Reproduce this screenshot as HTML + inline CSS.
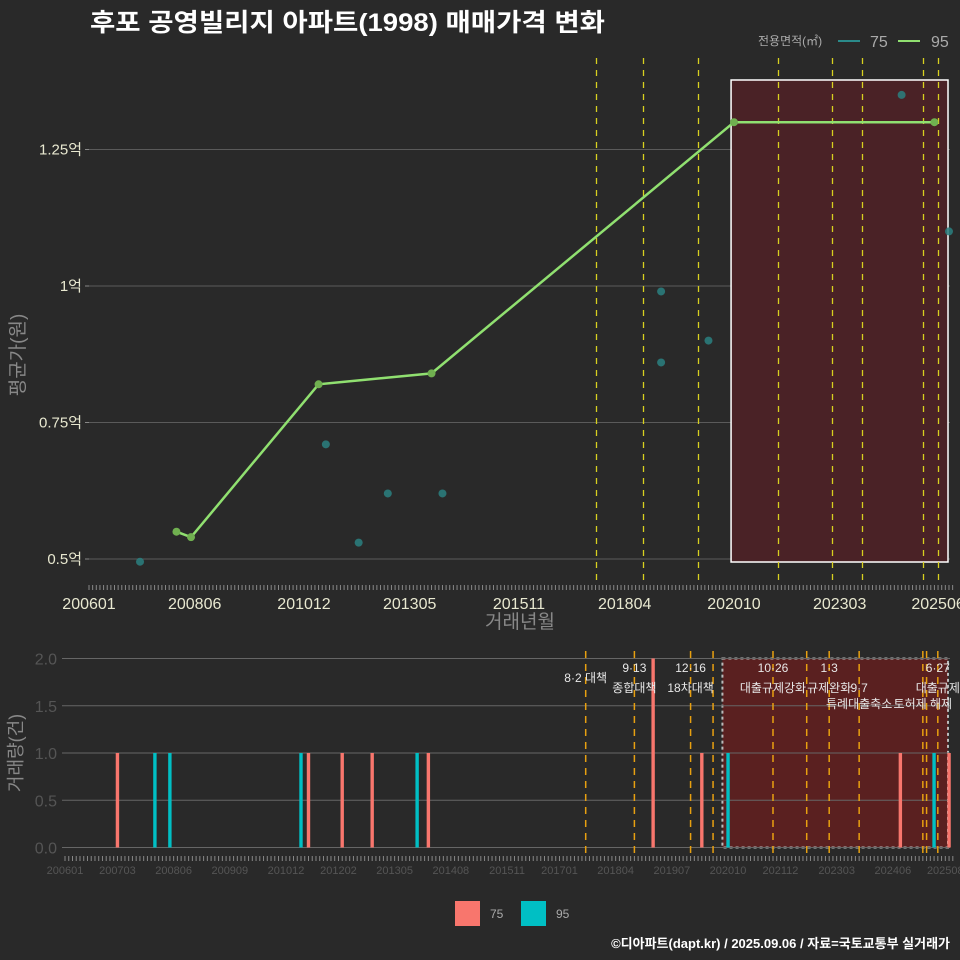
<!DOCTYPE html>
<html><head><meta charset="utf-8"><style>
html,body{margin:0;padding:0;background:#292929;}
svg{display:block;font-family:"Liberation Sans","Noto Sans CJK KR",sans-serif;}
</style></head><body>
<svg id="c" width="960" height="960" viewBox="0 0 960 960" xmlns="http://www.w3.org/2000/svg">
<rect width="960" height="960" fill="#292929"/>
<text x="90" y="31" fill="#ffffff" font-size="25" font-weight="bold" textLength="515" lengthAdjust="spacingAndGlyphs">후포 공영빌리지 아파트(1998) 매매가격 변화</text>
<g>
<text x="758" y="45" fill="#aaaaaa" font-size="12">전용면적(㎡)</text>
<line x1="838" y1="41" x2="860" y2="41" stroke="#2a8a8a" stroke-width="2"/>
<text x="870" y="47" fill="#aaaaaa" font-size="16">75</text>
<line x1="898" y1="41" x2="920" y2="41" stroke="#90e070" stroke-width="2"/>
<text x="931" y="47" fill="#aaaaaa" font-size="16">95</text>
</g>
<g id="top"></g>
<g id="bot"></g>
<g>
<rect x="455" y="901" width="25" height="25" fill="#f8766d"/>
<text x="490" y="918" fill="#aaaaaa" font-size="12">75</text>
<rect x="521" y="901" width="25" height="25" fill="#00bfc4"/>
<text x="556" y="918" fill="#aaaaaa" font-size="12">95</text>
</g>
<text x="950" y="948" text-anchor="end" fill="#ffffff" font-size="13" font-weight="bold">©디아파트(dapt.kr) / 2025.09.06 / 자료=국토교통부 실거래가</text>
</svg>
<script>
// month index = (year-2006)*12 + (month-1)
const line95Months=[24,28,63,94,177,232];
const line95Values=[0.55,0.54,0.82,0.84,1.30,1.30];
const dot75Months=[14,65,74,82,97,157,157,170,223,236];
const dot75Values=[0.495,0.71,0.53,0.62,0.62,0.99,0.86,0.90,1.35,1.10];
const bar75Months=[14,65,74,82,97,157,170,223,236];
const bar75Counts=[1,1,1,1,1,2,1,1,1];
const bar95Months=[24,28,63,94,177,232];
const bar95Counts=[1,1,1,1,1,1];
const topPolicyMonths=[139,152,167,189,204,212,229,233];
const botPolicyMonths=[139,152,167,173,189,198,204,212,229,230,233];
const topTickLabels=["200601","200806","201012","201305","201511","201804","202010","202303","202506"];
const topYTicks=[0.5,0.75,1,1.25];
const topYLabels=["0.5억","0.75억","1억","1.25억"];
const botTickLabels=["200601","200703","200806","200909","201012","201202","201305","201408","201511","201701","201804","201907","202010","202112","202303","202406","202508"];
const botYTicks=[0,0.5,1,1.5,2];
const botYLabels=["0.0","0.5","1.0","1.5","2.0"];
const NS="http://www.w3.org/2000/svg";
function el(p,t,a,txt){const e=document.createElementNS(NS,t);for(const k in a)e.setAttribute(k,a[k]);if(txt!=null)e.textContent=txt;p.appendChild(e);return e;}
function lblMonth(s){return (+s.slice(0,4)-2006)*12+(+s.slice(4)-1);}
const tx=m=>89+m*3.644, ty=v=>559-(v-0.5)*546;
const bx=m=>65+m*3.746, by=v=>847.5-v*94.5;
const T=document.getElementById('top'),B=document.getElementById('bot');
topYTicks.forEach((v,i)=>{
 let g=el(T,'line',{x1:89,x2:950,y1:ty(v),y2:ty(v),stroke:'#5a5a5a','stroke-width':1});
 
 
 el(T,'line',{x1:85,x2:89,y1:ty(v),y2:ty(v),stroke:'#888'});
 let t=el(T,'text',{x:82,y:ty(v)+5,'text-anchor':'end',fill:'#e8e8d0','font-size':15},topYLabels[i]);
 
 
});
let sb=el(T,'rect',{x:tx(176.2),y:80,width:948-tx(176.2),height:482,fill:'#4a2226',stroke:'#ffffff','stroke-width':1.5});


topPolicyMonths.forEach(m=>{
 let l=el(T,'line',{x1:Math.round(tx(m))+0.5,x2:Math.round(tx(m))+0.5,y1:58,y2:585,stroke:'#d8d020','stroke-width':1.3,'stroke-dasharray':'6,6'});
 
 
});
for(let m=0;m<=237;m++){el(T,'line',{x1:tx(m),x2:tx(m),y1:585,y2:590,stroke:'#888','stroke-width':1});}
topTickLabels.forEach(s=>{
 let t=el(T,'text',{x:tx(lblMonth(s)),y:609,'text-anchor':'middle',fill:'#e8e8d0','font-size':16},s);
 
 
});
let xt=el(T,'text',{x:520,y:628,'text-anchor':'middle',fill:'#888','font-size':19},'거래년월');


let yt=el(T,'text',{x:0,y:0,transform:'translate(24,355) rotate(-90)','text-anchor':'middle',fill:'#888','font-size':19},'평균가(원)');


dot75Months.forEach((m,i)=>{
 let c=el(T,'circle',{cx:tx(m),cy:ty(dot75Values[i]),r:4,fill:'#2a8080','fill-opacity':0.85});
 
 
});
let pl=el(T,'polyline',{points:line95Months.map((m,i)=>tx(m)+','+ty(line95Values[i])).join(' '),fill:'none',stroke:'#90e070','stroke-width':2.5});


line95Months.forEach((m,i)=>{
 let c=el(T,'circle',{cx:tx(m),cy:ty(line95Values[i]),r:4,fill:'#70b050'});
 
 
});
let bb=el(B,'rect',{x:bx(175.5),y:658.5,width:948-bx(175.5),height:189,fill:'#5a2020',stroke:'#bbbbbb','stroke-width':2,'stroke-dasharray':'3,3'});


botYTicks.forEach((v,i)=>{
 let g=el(B,'line',{x1:62,x2:950,y1:by(v),y2:by(v),stroke:'#666','stroke-width':1});
 
 
 let t=el(B,'text',{x:57,y:by(v)+6,'text-anchor':'end',fill:'#555','font-size':16},botYLabels[i]);
 
 
});
botPolicyMonths.forEach(m=>{
 let l=el(B,'line',{x1:bx(m),x2:bx(m),y1:651,y2:855,stroke:'#e8a010','stroke-width':1.5,'stroke-dasharray':'7,6'});
 
 
});
bar75Months.forEach((m,i)=>{
 let r=el(B,'rect',{x:bx(m)-1.7,y:by(bar75Counts[i]),width:3.4,height:by(0)-by(bar75Counts[i]),fill:'#f8766d'});
 
 
});
bar95Months.forEach((m,i)=>{
 let r=el(B,'rect',{x:bx(m)-1.7,y:by(bar95Counts[i]),width:3.4,height:by(0)-by(bar95Counts[i]),fill:'#00bfc4'});
 
 
});
const notes=[[139,'','8·2 대책',1],[152,'9·13','종합대책',0],[167,'12·16','18차대책',0],[189,'10·26','대출규제강화',0],[204,'1·3','규제완화',0],[212,'','9·7',0],[233,'6·27','대출규제',0]];
notes.forEach(n=>{
 const x=bx(n[0]);
 if(n[1]){let a=el(B,'text',{x:x,y:672,'text-anchor':'middle',fill:'#e8e8e8','font-size':12},n[1]);}
 let yy=n[3]?682:692;
 let b=el(B,'text',{x:x,y:yy,'text-anchor':'middle',fill:'#e8e8e8','font-size':12},n[2]);
 
 
});
let e1=el(B,'text',{x:bx(212),y:708,'text-anchor':'middle',fill:'#e8e8e8','font-size':12},'특례대출축소');

let e2=el(B,'text',{x:bx(229),y:708,'text-anchor':'middle',fill:'#e8e8e8','font-size':12},'토허제 해제');

for(let m=0;m<=237;m++){el(B,'line',{x1:bx(m),x2:bx(m),y1:856,y2:861,stroke:'#888','stroke-width':1});}
botTickLabels.forEach(s=>{
 let t=el(B,'text',{x:bx(lblMonth(s)),y:874,'text-anchor':'middle',fill:'#555','font-size':11},s);
 
 
});
let yt2=el(B,'text',{x:0,y:0,transform:'translate(22,753) rotate(-90)','text-anchor':'middle',fill:'#888','font-size':18},'거래량(건)');


</script>
</body></html>
